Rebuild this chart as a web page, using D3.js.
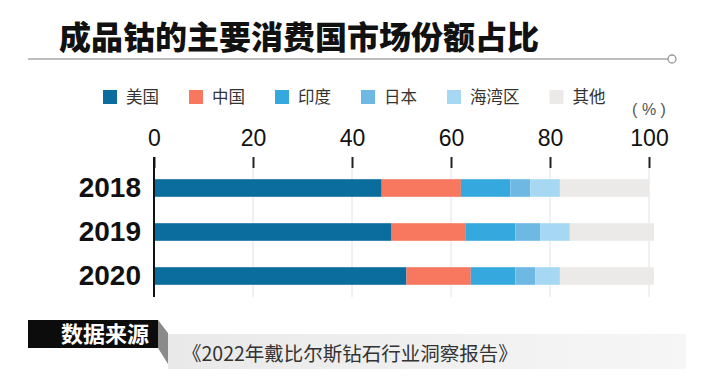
<!DOCTYPE html>
<html>
<head>
<meta charset="utf-8">
<script src="https://cdn.jsdelivr.net/npm/d3@7"></script>
<style>
    body { margin: 0; background: #fff; }
    svg { display: block; }
    .cn { font-family: "Noto Sans CJK SC", "Noto Sans", sans-serif; }
    .num { font-family: "Liberation Sans", Arial, sans-serif; }
</style>
</head>
<body>
<div id="chart"></div>
<script>

// data (percent of market)
let years = ["2018", "2019", "2020"];
let countries = ["美国", "中国", "印度", "日本", "海湾区", "其他"];
let usa    = [46, 48, 51];
let china  = [16, 15, 13];
let india  = [10, 10, 9];
let japan  = [4, 5, 4];
let gulf   = [6, 6, 5];
let others = [18, 17, 19];
let colors = ["#0b6d9d", "#f7775f", "#35a9de", "#6db9e4", "#a6d8f3", "#ece9e9"];
let tickValues = [0, 20, 40, 60, 80, 100];

let title = "成品钴的主要消费国市场份额占比";
let sourceLabel = "数据来源";
let sourceText = "《2022年戴比尔斯钻石行业洞察报告》";

let width = 703, height = 376;

let svg = d3.select("#chart").append("svg")
    .attr("width", width)
    .attr("height", height);

// build rows for the stack
let series = [usa, china, india, japan, gulf, others];
let rows = years.map((y, i) => {
    let r = {year: y};
    countries.forEach((c, j) => r[c] = series[j][i]);
    return r;
});

let stacked = d3.stack().keys(countries)(rows);

// scales
let x = d3.scaleLinear().domain([0, 100]).range([154, 649]);
let y = d3.scaleBand().domain(years).range([166, 298])
    .paddingInner(0.6).paddingOuter(0.3);
let color = d3.scaleOrdinal().domain(countries).range(colors);

// title + rule
svg.append("text")
    .attr("class", "cn")
    .attr("x", 59)
    .attr("y", 49)
    .attr("font-size", 32)
    .attr("font-weight", 900)
    .attr("fill", "#111")
    .text(title);

svg.append("line")
    .attr("x1", 28).attr("x2", 668)
    .attr("y1", 59).attr("y2", 59)
    .attr("stroke", "#a8a8a8")
    .attr("stroke-width", 1.5);

svg.append("circle")
    .attr("cx", 672).attr("cy", 59).attr("r", 4)
    .attr("fill", "#fff")
    .attr("stroke", "#999")
    .attr("stroke-width", 1.3);

// legend
let legend = svg.append("g").attr("transform", "translate(103, 90)");
let lx = 0;
countries.forEach((c, i) => {
    let g = legend.append("g").attr("transform", `translate(${lx}, 0)`);
    g.append("rect")
        .attr("width", 14).attr("height", 14)
        .attr("fill", color(c));
    let t = g.append("text")
        .attr("class", "cn")
        .attr("x", 23)
        .attr("y", 13)
        .attr("font-size", 16.5)
        .attr("fill", "#333")
        .text(c);
    lx += 23 + t.node().getComputedTextLength() + 30;
});

// unit
svg.append("text")
    .attr("class", "num")
    .attr("x", 649)
    .attr("y", 115)
    .attr("text-anchor", "middle")
    .attr("font-size", 16)
    .attr("fill", "#555")
    .text("( % )");

// gridlines
svg.append("g")
    .selectAll("line")
    .data(tickValues.slice(1))
    .join("line")
    .attr("x1", d => x(d)).attr("x2", d => x(d))
    .attr("y1", 168).attr("y2", 297)
    .attr("stroke", "#e2e2e2")
    .attr("stroke-width", 1);

// top axis
let xAxis = d3.axisTop(x)
    .tickValues(tickValues)
    .tickSize(11)
    .tickPadding(11)
    .tickFormat(d3.format("d"));

let xAxisGroup = svg.append("g")
    .attr("class", "num")
    .attr("transform", "translate(0, 168)")
    .call(xAxis);

xAxisGroup.select(".domain").remove();
xAxisGroup.selectAll(".tick line")
    .attr("stroke", "#222")
    .attr("stroke-width", 2);
xAxisGroup.selectAll(".tick text")
    .attr("font-size", 23)
    .attr("fill", "#111")
    .style("font-family", "'Liberation Sans', Arial, sans-serif");

// bars
svg.append("g")
    .selectAll("g")
    .data(stacked)
    .join("g")
    .attr("fill", d => color(d.key))
    .selectAll("rect")
    .data(d => d)
    .join("rect")
    .attr("x", d => x(d[0]))
    .attr("y", d => y(d.data.year))
    .attr("width", d => x(d[1]) - x(d[0]))
    .attr("height", y.bandwidth());

// left axis (years)
let yAxis = d3.axisLeft(y).tickSize(0).tickPadding(13);
let yAxisGroup = svg.append("g")
    .attr("transform", `translate(${x(0)}, 0)`)
    .call(yAxis);
yAxisGroup.select(".domain").remove();
yAxisGroup.selectAll(".tick text")
    .attr("font-size", 28)
    .attr("font-weight", "bold")
    .attr("fill", "#111")
    .style("font-family", "'Liberation Sans', Arial, sans-serif");

svg.append("line")
    .attr("x1", x(0)).attr("x2", x(0))
    .attr("y1", 157).attr("y2", 297)
    .attr("stroke", "#111")
    .attr("stroke-width", 2);

// source footer
let defs = svg.append("defs");
let grad = defs.append("linearGradient").attr("id", "strip");
grad.append("stop").attr("offset", "0%").attr("stop-color", "#e9e9e9");
grad.append("stop").attr("offset", "100%").attr("stop-color", "#f6f6f6");

svg.append("rect")
    .attr("x", 168).attr("y", 334)
    .attr("width", 518).attr("height", 35)
    .attr("fill", "url(#strip)");

svg.append("polygon")
    .attr("points", "158,320 168,333 168,364 158,348")
    .attr("fill", "#8a8a8a");

svg.append("rect")
    .attr("x", 28).attr("y", 320)
    .attr("width", 130).attr("height", 28)
    .attr("fill", "#0c0c0c");

svg.append("text")
    .attr("class", "cn")
    .attr("x", 149)
    .attr("y", 342)
    .attr("text-anchor", "end")
    .attr("font-size", 22)
    .attr("font-weight", 700)
    .attr("fill", "#fff")
    .text(sourceLabel);

svg.append("text")
    .attr("class", "cn")
    .attr("x", 182)
    .attr("y", 361)
    .attr("font-size", 19.5)
    .attr("fill", "#333")
    .text(sourceText);

</script>
</body>
</html>
